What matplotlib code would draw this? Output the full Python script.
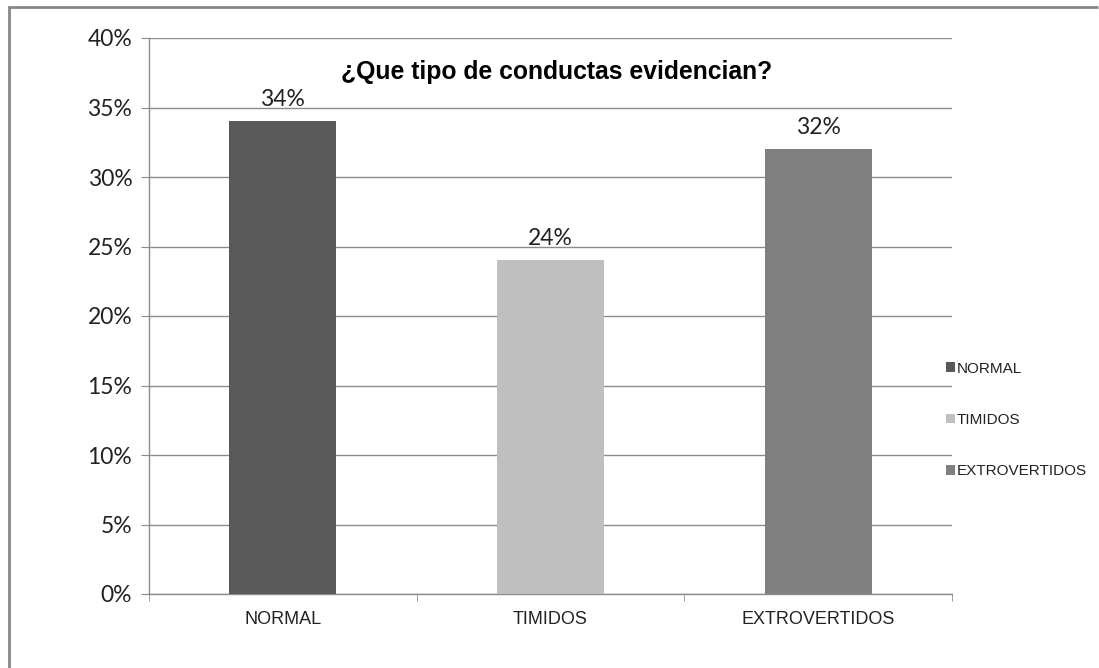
import matplotlib
matplotlib.use("Agg")
import matplotlib.pyplot as plt
from matplotlib.patches import Patch
from matplotlib.lines import Line2D
import numpy as np

categories = ["NORMAL", "TIMIDOS", "EXTROVERTIDOS"]
values = [34, 24, 32]
colors = ["#595959", "#BFBFBF", "#808080"]
yticks = [0, 5, 10, 15, 20, 25, 30, 35, 40]
title = "¿Que tipo de conductas evidencian?"

W, H = 1099, 668
fig = plt.figure(figsize=(W / 100, H / 100), dpi=100)
fig.patch.set_facecolor("white")
fig.patch.set_linewidth(0)

ax = fig.add_axes([149 / W, (H - 594) / H, 803 / W, 556 / H])
x = np.arange(len(categories))
ax.bar(x, values, width=0.40, color=colors, zorder=3)
ax.set_xlim(-0.5, len(categories) - 0.5)
ax.set_ylim(0, 40)

grid_c = "#8C8C8C"
ax.set_yticks(yticks)
ax.set_yticklabels([f"{v}%" for v in yticks], fontfamily="Lato", fontsize=16.5, color="#222222")
ax.yaxis.grid(True, color=grid_c, linewidth=1, zorder=0)
ax.set_axisbelow(True)
ax.tick_params(axis="y", length=6, color=grid_c, pad=6)

ax.set_xticks(x)
ax.set_xticklabels(categories, fontfamily="Liberation Sans", fontsize=13, color="#222222")
ax.set_xticks(np.arange(len(categories) + 1) - 0.5, minor=True)
ax.tick_params(axis="x", which="major", length=0, pad=12)
ax.tick_params(axis="x", which="minor", length=5, color=grid_c, direction="out")

for s in ["top", "right"]:
    ax.spines[s].set_visible(False)
for s in ["left", "bottom"]:
    ax.spines[s].set_color(grid_c)
    ax.spines[s].set_linewidth(1)

for xi, v in zip(x, values):
    ax.annotate(f"{v}%", (xi, v), xytext=(0, 8), textcoords="offset points",
                ha="center", va="bottom", fontfamily="Lato", fontsize=16.5, color="#222222")

fig.text(557 / W, 1 - 72 / H, title, ha="center", va="center",
         fontfamily="Liberation Sans", fontweight="bold", fontsize=17.8, color="black")

handles = [Patch(facecolor=c, edgecolor="none") for c in colors]
leg = fig.legend(handles, categories, loc="center left",
                 bbox_to_anchor=(940 / W, 1 - 420 / H), frameon=False,
                 prop={"family": "Liberation Sans", "size": 11},
                 handlelength=0.6, handleheight=0.6, handletextpad=0.1,
                 labelspacing=2.45, borderaxespad=0)
for t in leg.get_texts():
    t.set_color("#222222")

# outer border (only top and left edges fall inside the image)
fig.add_artist(Line2D([9 / W, 9 / W, 1098 / W], [0, 1 - 7 / H, 1 - 7 / H],
                      color="#868686", linewidth=2, solid_joinstyle="miter",
                      solid_capstyle="butt", transform=fig.transFigure))

fig.savefig("out.png", dpi=100)
